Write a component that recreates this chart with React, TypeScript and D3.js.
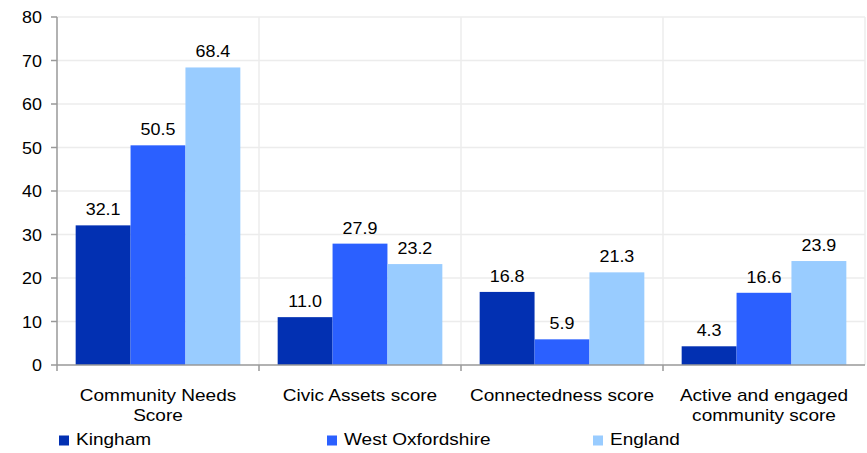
import React from 'react';
import * as d3 from 'd3';

const categories = [
  ['Community Needs', 'Score'],
  ['Civic Assets score'],
  ['Connectedness score'],
  ['Active and engaged', 'community score'],
];
const seriesNames = ['Kingham', 'West Oxfordshire', 'England'];
const seriesColors = ['#0230b2', '#2b60ff', '#99ccff'];
const kingham = [32.1, 11.0, 16.8, 4.3];
const westOxfordshire = [50.5, 27.9, 5.9, 16.6];
const england = [68.4, 23.2, 21.3, 23.9];
const yTicks = [0, 10, 20, 30, 40, 50, 60, 70, 80];

const W = 867;
const H = 453;
const m = { left: 57, right: 2, top: 17, bottom: 88 };
const font = 'Liberation Sans, Arial, sans-serif';
const SX = 1.12; // reference text is slightly wider than the font

// text drawn with a small horizontal stretch
const T = ({ x, y, size, anchor = 'middle', children }: any) => (
  <text transform={`translate(${x},${y}) scale(${SX},1)`} textAnchor={anchor} fontSize={size} fill="#000">
    {children}
  </text>
);

export default function App() {
  const series = [kingham, westOxfordshire, england];
  const x0 = d3.scaleBand<number>()
    .domain(categories.map((_, i) => i))
    .range([m.left, W - m.right])
    .paddingInner(0)
    .paddingOuter(0);
  const x1 = d3.scaleBand<number>()
    .domain([0, 1, 2])
    .range([0, x0.bandwidth()])
    .paddingOuter(0.34)
    .paddingInner(0);
  const y = d3.scaleLinear().domain([0, 80]).range([H - m.bottom, m.top]);
  const y0 = y(0);

  return (
    <svg width={W} height={H} style={{ position: 'absolute', left: 0, top: 0, background: '#fff' }}
      fontFamily={font}>
      {/* grid */}
      {yTicks.slice(1).map(t => (
        <line key={'g' + t} x1={m.left} x2={W - m.right} y1={y(t)} y2={y(t)} stroke="#ececec" strokeWidth={1.5} />
      ))}
      {categories.map((_, i) => i > 0 && (
        <line key={'v' + i} x1={x0(i)!} x2={x0(i)!} y1={m.top} y2={y0} stroke="#ececec" strokeWidth={1.5} />
      ))}
      <line x1={W - m.right} x2={W - m.right} y1={m.top} y2={y0} stroke="#ececec" strokeWidth={1.5} />

      {/* bars */}
      {series.map((vals, s) => vals.map((v, i) => (
        <rect key={`b${s}-${i}`} x={x0(i)! + x1(s)!} y={y(v)} width={x1.bandwidth()} height={y0 - y(v)}
          fill={seriesColors[s]} />
      )))}
      {series.map((vals, s) => vals.map((v, i) => (
        <T key={`l${s}-${i}`} x={x0(i)! + x1(s)! + x1.bandwidth() / 2} y={y(v) - 10} size={16}>
          {v.toFixed(1)}
        </T>
      )))}

      {/* y axis */}
      <line x1={m.left} x2={m.left} y1={m.top} y2={y0} stroke="#999" strokeWidth={1.5} />
      {yTicks.map(t => (
        <g key={'t' + t}>
          <line x1={m.left - 6} x2={m.left} y1={y(t)} y2={y(t)} stroke="#999" strokeWidth={1.5} />
          <T x={m.left - 15} y={y(t) + 6} size={16} anchor="end">{t}</T>
        </g>
      ))}

      {/* x axis */}
      <line x1={m.left} x2={W - m.right} y1={y0} y2={y0} stroke="#999" strokeWidth={1.5} />
      {categories.map((_, i) => (
        <line key={'xt' + i} x1={x0(i)!} x2={x0(i)!} y1={y0} y2={y0 + 6} stroke="#999" strokeWidth={1.5} />
      ))}
      {categories.map((lines, i) =>
        lines.map((ln, k) => (
          <T key={`c${i}-${k}`} x={x0(i)! + x0.bandwidth() / 2} y={y0 + 35.5 + k * 20} size={17}>{ln}</T>
        ))
      )}

      {/* legend */}
      {seriesNames.map((n, s) => {
        const lx = [59, 327, 593][s];
        return (
          <g key={'lg' + s}>
            <rect x={lx} y={435.5} width={10} height={10} fill={seriesColors[s]} />
            <T x={lx + 17} y={445} size={17} anchor="start">{n}</T>
          </g>
        );
      })}
    </svg>
  );
}
